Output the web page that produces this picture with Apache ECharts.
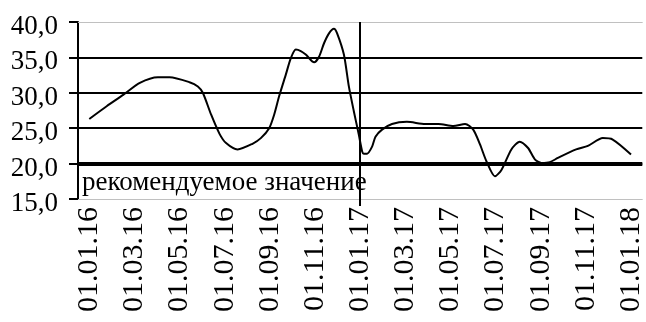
<!DOCTYPE html>
<html>
<head>
<meta charset="utf-8">
<script src="https://cdn.jsdelivr.net/npm/echarts@6/dist/echarts.min.js"></script>
<style>
	html, body { margin: 0; padding: 0; background: #fff; }
	#chart { width: 646px; height: 322px; }
</style>
</head>
<body>
<div id="chart"></div>
<script>
// позиция точки в месяцах от 01.01.16
let months = [0, 0.77, 1.5, 2.24, 3.04, 3.56, 4.44, 4.81, 5.03, 5.4, 5.77, 6.06, 6.57, 7.23, 7.6,
	7.97, 8.19, 8.41, 8.71, 8.93, 9.15, 9.37, 9.59, 9.96, 10.18, 10.4, 10.62, 10.84, 10.98, 11.28,
	11.5, 11.72, 11.94, 12.09, 12.16, 12.31, 12.53, 12.68, 12.97, 13.41, 14.07, 14.88, 15.47, 16.13,
	16.65, 17.01, 17.31, 17.6, 17.97, 18.26, 18.7, 19.07, 19.44, 19.74, 20.03, 20.4, 20.76, 21.57,
	22.09, 22.75, 23.19, 24]
let values = [26.3, 28.1, 29.7, 31.4, 32.2, 32.2, 31.5, 30.9, 30.0, 26.9, 24.2, 22.9, 22.0, 22.8, 23.6,
	25.0, 26.9, 29.5, 32.6, 34.9, 36.1, 35.9, 35.4, 34.3, 35.1, 37.0, 38.4, 39.05, 38.4, 35.4,
	30.9, 27.4, 24.1, 21.7, 21.4, 21.4, 22.4, 23.8, 24.8, 25.6, 25.9, 25.6, 25.6, 25.3,
	25.6, 24.8, 22.7, 20.3, 18.2, 19.1, 22.0, 23.1, 22.2, 20.6, 20.1, 20.2, 20.8, 22.0,
	22.5, 23.6, 23.4, 21.3]

let tickMonths = [0, 2, 4, 6, 8, 10, 12, 14, 16, 18, 20, 22, 24]
let tickLabels = ['01.01.16', '01.03.16', '01.05.16', '01.07.16', '01.09.16', '01.11.16', '01.01.17',
	'01.03.17', '01.05.17', '01.07.17', '01.09.17', '01.11.17', '01.01.18']

let recommended = 20
let yearBreak = 12
let recommendedText = 'рекомендуемое значение'

let data = []
for (let i = 0, l = months.length; i < l; i ++) {
	data.push([months[i], values[i]])
}

let font = 'Liberation Serif'
let chart = echarts.init(document.getElementById('chart'))

let option = {
	animation: false,
	backgroundColor: '#fff',
	grid: { left: 78, top: 22, width: 567, height: 177 },
	xAxis: [{
		type: 'value',
		min: -0.5,
		max: 24.5,
		axisLine: { onZero: false, lineStyle: { color: '#c0c0c0', width: 1 } },
		axisTick: { show: true, customValues: [yearBreak], length: 7, lineStyle: { color: '#000', width: 2 } },
		splitLine: { show: false },
		axisLabel: {
			customValues: tickMonths,
			rotate: 90,
			margin: 8,
			fontFamily: font,
			fontSize: 30,
			color: '#000',
			formatter: v => tickLabels[tickMonths.indexOf(Math.round(v))] || ''
		}
	}, {
		type: 'value',
		position: 'top',
		min: -0.5,
		max: 24.5,
		axisLine: { show: true, onZero: false, lineStyle: { color: '#c0c0c0', width: 1 } },
		axisTick: { show: false },
		axisLabel: { show: false },
		splitLine: { show: false }
	}],
	yAxis: {
		type: 'value',
		min: 15,
		max: 40,
		interval: 5,
		axisLine: { show: true, onZero: false, lineStyle: { color: '#000', width: 2 } },
		axisTick: { show: true, length: 9, lineStyle: { color: '#000', width: 2 } },
		splitLine: {
			show: true,
			lineStyle: { color: ['transparent', '#000', '#000', '#000', '#000', 'transparent'], width: 2 }
		},
		axisLabel: {
			margin: 20,
			color: '#000',
			formatter: v => '{v|' + v.toFixed(1).replace('.', ',') + '}',
			rich: {
				v: { fontFamily: font, fontSize: 27, color: '#000', padding: [10, 0, 0, 0] }
			}
		}
	},
	series: [{
		type: 'line',
		xAxisIndex: 0,
		data: data,
		smooth: 0.25,
		symbol: 'none',
		lineStyle: { color: '#000', width: 2 },
		markLine: {
			silent: true,
			symbol: 'none',
			data: [{
				yAxis: recommended,
				lineStyle: { color: '#000', width: 4, type: 'solid' },
				label: {
					show: true,
					position: 'insideStartBottom',
					distance: [4, 6],
					formatter: recommendedText,
					fontFamily: font,
					fontSize: 27,
					color: '#000'
				}
			}, {
				xAxis: yearBreak,
				lineStyle: { color: '#000', width: 2, type: 'solid' },
				label: { show: false }
			}]
		}
	}]
}

chart.setOption(option)
</script>
</body>
</html>
